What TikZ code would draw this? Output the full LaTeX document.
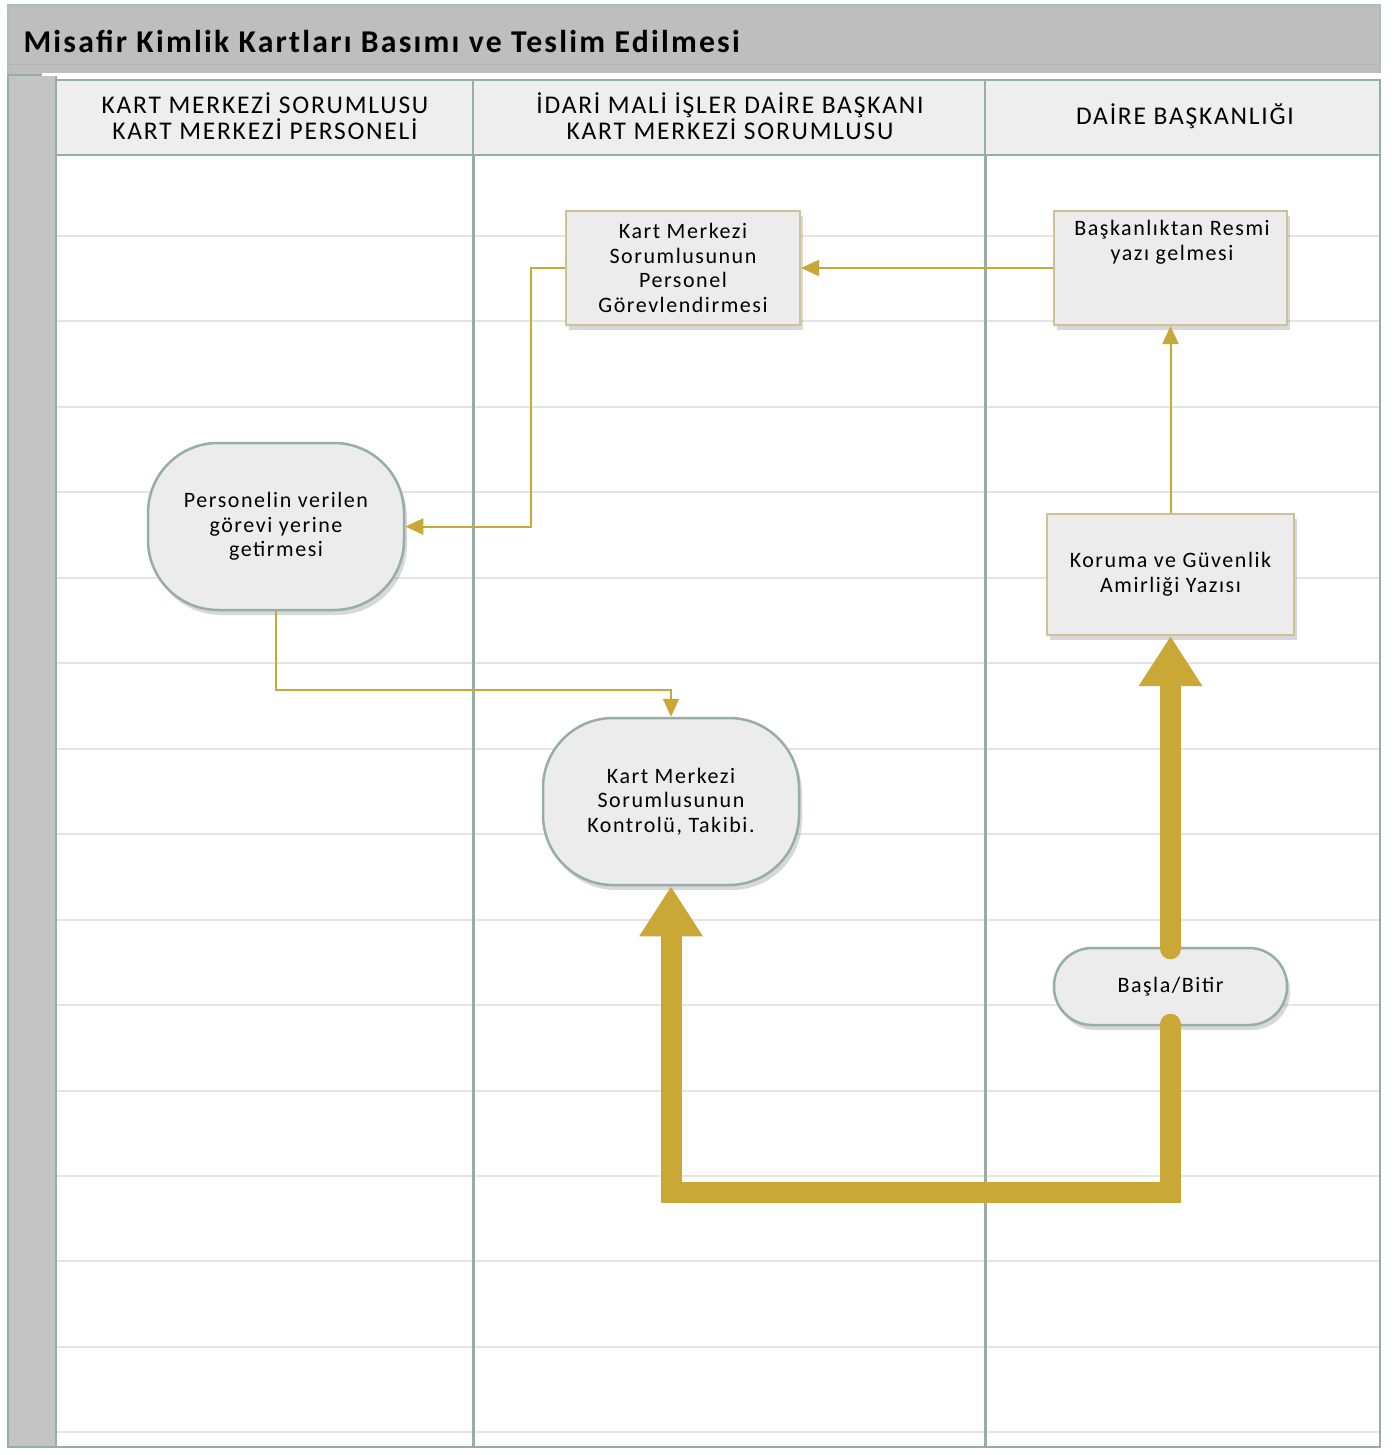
\documentclass[tikz,border=0pt]{standalone}
\usepackage{fontspec}
\setmainfont{Carlito}[LetterSpace=7]
\usetikzlibrary{shadows,arrows.meta}
\definecolor{gold}{RGB}{201,168,56}
\definecolor{framec}{RGB}{150,174,166}
\definecolor{titlegray}{RGB}{190,190,190}
\definecolor{stripgray}{RGB}{196,196,196}
\definecolor{hdr}{RGB}{238,238,238}
\definecolor{boxfill}{RGB}{236,236,236}
\definecolor{boxline}{RGB}{204,194,150}
\definecolor{gridc}{RGB}{228,228,228}
\tikzset{
  procbox/.style={draw=boxline, line width=2pt, fill=boxfill, rectangle,
    drop shadow={shadow xshift=3pt, shadow yshift=-5pt, opacity=0.25, fill=black!60},
    align=center, font=\fontsize{22}{24.7}\selectfont, inner sep=0pt},
  termbox/.style={draw=framec, line width=2.5pt, fill=boxfill, rectangle,
    drop shadow={shadow xshift=3pt, shadow yshift=-5pt, opacity=0.25, fill=black!60},
    align=center, font=\fontsize{22}{24.7}\selectfont, inner sep=0pt},
  thinarrow/.style={draw=gold, line width=2pt, -{Triangle[width=16pt,length=18pt]}},
  thickarrow/.style={draw=gold, line width=21pt, line cap=round, line join=miter,
    -{Triangle[width=60pt,length=50pt]}},
  hdrcell/.style={draw=framec, line width=2.5pt, fill=hdr},
  hdrtext/.style={align=center, font=\fontsize{25.5}{26}\selectfont},
}
\begin{document}
\begin{tikzpicture}[x=1pt,y=-1pt]
\useasboundingbox (0,0) rectangle (1394,1455);
\fill[white] (0,0) rectangle (1394,1455);
% title bar
\fill[titlegray] (8,5) rectangle (1380,75);
\draw[black!30, line width=1pt] (8,65) -- (1380,65);
\draw[framec!80, line width=2pt] (8,5) rectangle (1380,75);
\node[anchor=west, font=\fontsize{31.7}{34}\selectfont\bfseries] (title) at (20,41) {Misafir Kimlik Kartları Basımı ve Teslim Edilmesi};
% left strip
\fill[stripgray] (8,75) rectangle (56,1447);
\draw[framec, line width=2.5pt] (8,75) rectangle (56,1447);
% lanes
\draw[framec, line width=2.5pt] (56,155) rectangle (1380,1447);
\foreach \k in {0,...,14} {
  \draw[gridc, line width=2pt] (57,236+85.45*\k) -- (1379,236+85.45*\k);
}
\draw[framec, line width=3pt] (473,80) -- (473,1447);
\draw[framec, line width=3pt] (985,80) -- (985,1447);
% header
\draw[hdrcell] (56,80) rectangle (473,155);
\draw[hdrcell] (473,80) rectangle (985,155);
\draw[hdrcell] (985,80) rectangle (1380,155);
\draw[white, line width=3pt] (42,75) -- (1394,75);
\node[hdrtext] (h1) at (265,116) {KART MERKEZİ SORUMLUSU\\KART MERKEZİ PERSONELİ};
\node[hdrtext] (h2) at (730,116) {İDARİ MALİ İŞLER DAİRE BAŞKANI\\KART MERKEZİ SORUMLUSU};
\node[hdrtext] (h3) at (1185,116) {DAİRE BAŞKANLIĞI};
% nodes
\node[procbox, minimum width=234pt, minimum height=114pt] (A) at (683,268)
  {Kart Merkezi\\Sorumlusunun\\Personel\\Görevlendirmesi};
\node[procbox, minimum width=233pt, minimum height=114pt] (B) at (1170.5,268) {};
\node[align=center, font=\fontsize{22}{24.7}\selectfont] (Bt) at (1172,242) {Başkanlıktan Resmi\\yazı gelmesi};
\node[termbox, minimum width=256pt, minimum height=167pt, rounded corners=70pt] (C) at (276,526.5)
  {Personelin verilen\\görevi yerine\\getirmesi};
\node[procbox, minimum width=247pt, minimum height=121pt] (D) at (1170.5,574.5)
  {Koruma ve Güvenlik\\Amirliği Yazısı};
\node[termbox, minimum width=256pt, minimum height=167pt, rounded corners=70pt] (E) at (671,801.5)
  {Kart Merkezi\\Sorumlusunun\\Kontrolü, Takibi.};
\node[termbox, minimum width=233pt, minimum height=77pt, rounded corners=38pt] (F) at (1170.5,986.5)
  {Başla/Bitir};
% connectors
\draw[thinarrow] (B.west) -- (A.east);
\draw[thinarrow] (A.west) -- (531,268) |- (C.east);
\draw[thinarrow] (C.south) -- (276,690) -| (E.north);
\draw[thinarrow] (D.north) -- (B.south);
\draw[thickarrow] ([yshift=-2pt]F.north) -- (D.south);
\draw[thickarrow] ([yshift=2pt]F.south) -- ++(0,168) -| (E.south);
\end{tikzpicture}
\end{document}
